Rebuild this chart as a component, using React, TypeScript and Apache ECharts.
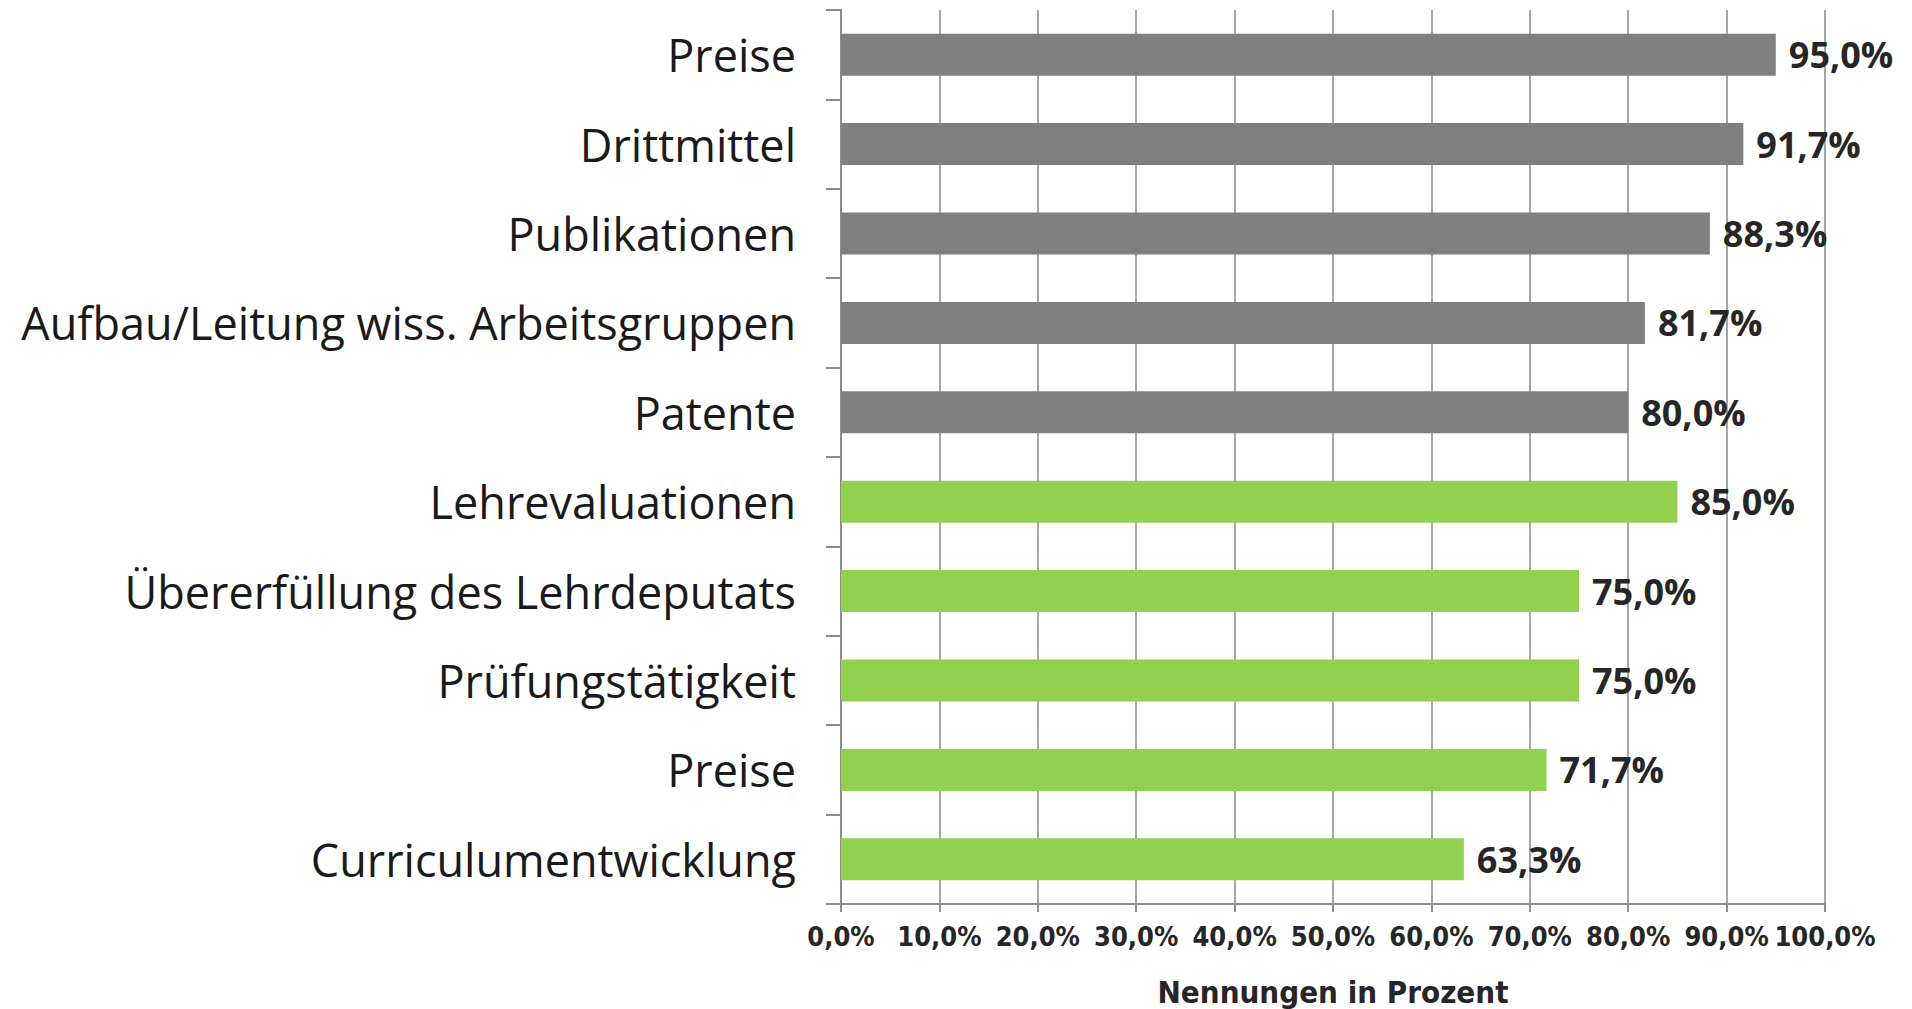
import React, { useEffect, useRef } from "react";
import * as echarts from "echarts";

const categories = [
  "Preise",
  "Drittmittel",
  "Publikationen",
  "Aufbau/Leitung wiss. Arbeitsgruppen",
  "Patente",
  "Lehrevaluationen",
  "Übererfüllung des Lehrdeputats",
  "Prüfungstätigkeit",
  "Preise",
  "Curriculumentwicklung",
];
const values = [95.0, 91.7, 88.3, 81.7, 80.0, 85.0, 75.0, 75.0, 71.7, 63.3];
const groups = ["forschung", "forschung", "forschung", "forschung", "forschung", "lehre", "lehre", "lehre", "lehre", "lehre"];
const groupColors: Record<string, string> = { forschung: "#808080", lehre: "#92D050" };
const axisTitle = "Nennungen in Prozent";

const fmt = (v: number) => v.toFixed(1).replace(".", ",") + "%";
const condensed = "'Liberation Sans Narrow', 'DejaVu Sans Condensed', sans-serif";

export default function App() {
  const ref = useRef<HTMLDivElement>(null);
  useEffect(() => {
    if (!ref.current) return;
    const chart = echarts.init(ref.current, undefined, { renderer: "svg" });
    chart.setOption({
      animation: false,
      backgroundColor: "#ffffff",
      grid: { left: 841, right: 87, top: 10, bottom: 105, containLabel: false, outerBoundsMode: "none" },
      xAxis: {
        type: "value",
        min: 0,
        max: 100,
        interval: 10,
        name: axisTitle,
        nameLocation: "middle",
        nameGap: 72,
        nameTextStyle: {
          fontFamily: condensed,
          fontWeight: "bold",
          fontSize: 31,
          lineHeight: 31,
          color: "#262626",
          verticalAlign: "top",
        },
        axisLine: { show: true, lineStyle: { color: "#8c8c8c", width: 2 } },
        axisTick: { show: true, length: 8, lineStyle: { color: "#8c8c8c", width: 2 } },
        splitLine: { show: true, lineStyle: { color: "#a6a6a6", width: 2 } },
        axisLabel: {
          margin: 19,
          showMaxLabel: true,
          showMinLabel: true,
          hideOverlap: false,
          formatter: (v: number) => fmt(v),
          fontFamily: condensed,
          fontWeight: "bold",
          fontSize: 27,
          color: "#262626",
        },
      },
      yAxis: {
        type: "category",
        inverse: true,
        data: categories,
        axisLine: { show: true, lineStyle: { color: "#8c8c8c", width: 2 } },
        axisTick: { show: true, length: 15, lineStyle: { color: "#8c8c8c", width: 2 } },
        axisLabel: {
          margin: 45,
          fontFamily: "'Open Sans', Lato, sans-serif",
          fontSize: 45,
          color: "#1a1a1a",
        },
      },
      series: [
        {
          type: "bar",
          barWidth: 42,
          data: values.map((v, i) => ({ value: v, itemStyle: { color: groupColors[groups[i]] } })),
          label: {
            show: true,
            position: "right",
            distance: 13,
            formatter: (p: any) => fmt(p.value),
            fontFamily: "'Open Sans', Lato, sans-serif",
            fontWeight: "bold",
            fontSize: 36,
            color: "#262626",
          },
        },
      ],
    });
    return () => chart.dispose();
  }, []);
  return <div ref={ref} style={{ position: "fixed", left: 0, top: 0, width: 1912, height: 1009 }} />;
}
